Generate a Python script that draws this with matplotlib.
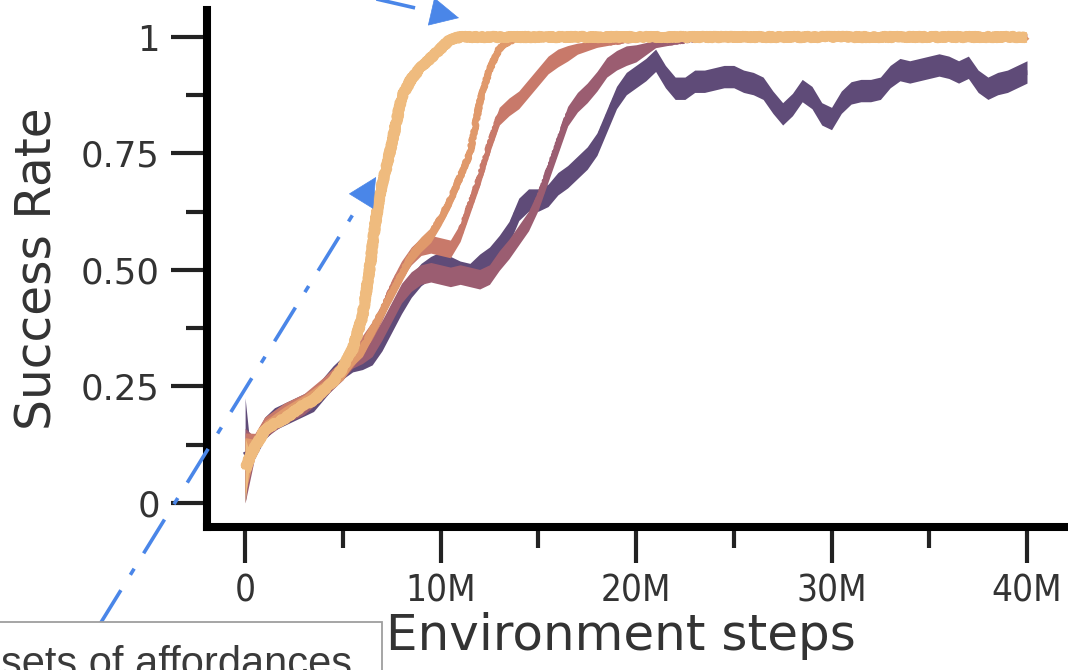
import matplotlib
matplotlib.use("Agg")
import matplotlib.pyplot as plt
import numpy as np
from matplotlib.ticker import FuncFormatter, MultipleLocator
from matplotlib.patches import Rectangle

# ---- learning curves (x in millions of environment steps) ----
purple_steps = [0, 0.25, 0.5, 1, 1.5, 2, 2.5, 3, 3.5, 4, 4.5, 5, 5.5, 6, 6.5, 7, 7.5, 8, 8.5, 9,
                9.5, 10, 10.5, 11, 11.5, 12, 12.5, 13, 13.5, 14, 14.5, 15, 15.5, 16, 16.5, 17,
                17.5, 18, 18.5, 19, 19.5, 20, 20.5, 21, 21.5, 22, 22.5, 23, 23.5, 24, 24.5, 25,
                25.5, 26, 26.5, 27, 27.5, 28, 28.5, 29, 29.5, 30, 30.5, 31, 31.5, 32, 32.5, 33,
                33.5, 34, 34.5, 35, 35.5, 36, 36.5, 37, 37.5, 38, 38.5, 39, 39.5, 40]
purple_rate = [0.11, 0.10, 0.12, 0.16, 0.18, 0.19, 0.20, 0.21, 0.22, 0.245, 0.27, 0.29, 0.305,
               0.31, 0.32, 0.35, 0.39, 0.43, 0.465, 0.49, 0.505, 0.515, 0.505, 0.495, 0.49, 0.51,
               0.525, 0.55, 0.58, 0.63, 0.65, 0.65, 0.66, 0.685, 0.70, 0.72, 0.74, 0.77, 0.82,
               0.87, 0.90, 0.915, 0.93, 0.95, 0.915, 0.89, 0.89, 0.905, 0.905, 0.91, 0.915, 0.915,
               0.905, 0.90, 0.89, 0.86, 0.835, 0.855, 0.885, 0.87, 0.835, 0.825, 0.86, 0.88, 0.885,
               0.885, 0.89, 0.915, 0.93, 0.925, 0.93, 0.935, 0.94, 0.935, 0.925, 0.935, 0.905,
               0.89, 0.90, 0.905, 0.915, 0.925]

mauve_steps = [0, 0.5, 1, 2, 3, 4, 5, 5.5, 6, 6.5, 7, 7.5, 8, 8.5, 9, 9.5, 10, 10.5, 11, 11.5,
               12, 12.5, 13, 13.5, 14, 14.5, 15, 15.5, 16, 16.5, 17, 17.5, 18, 18.5, 19, 19.5,
               20, 20.5, 21, 22, 23, 24, 40]
mauve_rate = [0.08, 0.12, 0.16, 0.19, 0.21, 0.245, 0.285, 0.31, 0.32, 0.335, 0.37, 0.41, 0.45,
              0.475, 0.49, 0.495, 0.49, 0.485, 0.49, 0.485, 0.48, 0.49, 0.52, 0.545, 0.575,
              0.605, 0.65, 0.71, 0.77, 0.83, 0.86, 0.88, 0.905, 0.935, 0.95, 0.96, 0.965, 0.975,
              0.985, 0.99, 0.995, 1.0, 1.0]

terra_steps = [0, 0.5, 1, 2, 3, 4, 5, 5.5, 6, 6.5, 7, 7.5, 8, 8.5, 9, 9.5, 10, 10.5, 11, 11.5,
               12, 12.5, 13, 13.5, 14, 14.5, 15, 15.5, 16, 16.5, 17, 18, 19, 20, 21, 40]
terra_rate = [0.08, 0.13, 0.165, 0.195, 0.215, 0.25, 0.29, 0.31, 0.34, 0.37, 0.41, 0.46, 0.50,
              0.53, 0.55, 0.555, 0.55, 0.545, 0.58, 0.64, 0.70, 0.77, 0.83, 0.85, 0.865, 0.89,
              0.915, 0.94, 0.955, 0.965, 0.975, 0.985, 0.99, 0.995, 1.0, 1.0]

orange_steps = [0, 0.5, 1, 2, 3, 4, 5, 5.5, 6, 6.5, 7, 7.5, 8, 8.5, 9, 9.5, 10, 10.5, 11, 11.5,
                12, 12.5, 13, 13.5, 14, 40]
orange_rate = [0.08, 0.12, 0.16, 0.19, 0.215, 0.245, 0.28, 0.31, 0.33, 0.37, 0.41, 0.45, 0.49,
               0.53, 0.555, 0.575, 0.61, 0.65, 0.70, 0.75, 0.86, 0.93, 0.975, 0.99, 1.0, 1.0]

light_steps = [0, 0.25, 0.5, 1, 1.5, 2, 2.5, 3, 3.5, 4, 4.5, 5, 5.5, 6, 6.3, 6.6, 6.9, 7.2, 7.5,
               8, 8.5, 9, 9.5, 10, 10.5, 11, 40]
light_rate = [0.07, 0.10, 0.12, 0.155, 0.17, 0.18, 0.195, 0.21, 0.22, 0.24, 0.26, 0.29, 0.33,
              0.40, 0.48, 0.58, 0.665, 0.715, 0.77, 0.87, 0.91, 0.935, 0.955, 0.975, 0.995, 1.0,
              1.0]

# spread of the runs at the very first evaluation (low, high)
start_spread = {
    "purple": (0.0, 0.225),
    "mauve": (0.0, 0.16),
    "terra": (0.02, 0.15),
    "orange": (0.02, 0.14),
    "light": (0.0, 0.14),
}

series = [
    ("purple", purple_steps, purple_rate, "#5f4b78", 0.024, 3.5),
    ("mauve", mauve_steps, mauve_rate, "#9b5d71", 0.021, 3.5),
    ("terra", terra_steps, terra_rate, "#c8796a", 0.019, 3.5),
    ("orange", orange_steps, orange_rate, "#e0996b", 0.016, 4.5),
    ("light", light_steps, light_rate, "#efbb7e", 0.006, 7.5),
]

x_ticks = [0, 10, 20, 30, 40]
x_ticklabels = ["0", "10M", "20M", "30M", "40M"]

W, H = 1068, 670
fig = plt.figure(figsize=(W / 100, H / 100), dpi=100)
ax = fig.add_axes([207 / W, 1 - 527 / H, 863 / W, 517 / H])

for i, (name, xs, ys, color, hw, lw) in enumerate(series):
    xs = np.asarray(xs, dtype=float)
    ys = np.asarray(ys, dtype=float)
    # the spread between runs closes up once every run solves the task
    spread = hw * np.clip((1.0 - ys) / 0.04, 0.15, 1.0)
    lo = ys - spread
    hi = np.minimum(ys + spread, 1.0)
    lo[0], hi[0] = start_spread[name]
    band = ax.fill_between(xs, lo, hi, color=color, lw=0, zorder=2 + i)
    band.set_sketch_params(scale=2.6, length=2.5, randomness=10)
    line, = ax.plot(xs, ys, color=color, lw=lw, zorder=2 + i, solid_capstyle="butt")
    line.set_sketch_params(scale=1.0, length=3, randomness=6)

ax.set_xlim(-1.95, 42.2)
ax.set_ylim(-0.052, 1.058)

for s in ("top", "right"):
    ax.spines[s].set_visible(False)
for s in ("left", "bottom"):
    ax.spines[s].set_linewidth(5.8)
    ax.spines[s].set_color("black")

ax.set_xticks(x_ticks)
ax.set_xticklabels(x_ticklabels)
ax.xaxis.set_minor_locator(MultipleLocator(5))
ax.yaxis.set_major_locator(MultipleLocator(0.25))
ax.yaxis.set_minor_locator(MultipleLocator(0.125))
ax.yaxis.set_major_formatter(FuncFormatter(
    lambda v, p: "0" if abs(v) < 1e-9 else ("1" if abs(v - 1) < 1e-9 else f"{v:.2f}")))

ax.tick_params(axis="both", which="major", length=26, width=3, color="#222222",
               labelcolor="#333333", pad=8)
ax.tick_params(axis="y", which="major", labelsize=25.5)
ax.tick_params(axis="x", which="major", labelsize=26.5, pad=7)
ax.tick_params(axis="both", which="minor", length=15, width=3, color="#222222")
for lab in ax.get_xticklabels():
    lab.set_fontstretch("condensed")

ax.set_ylabel("Success Rate", fontsize=35, color="#333333", labelpad=14)
ax.set_xlabel("Environment steps", fontsize=36, color="#333333")
ax.xaxis.set_label_coords((621 - 207) / 863, -0.165)
ax.xaxis.label.set_va("top")

# ---- slide annotations drawn on top in pixel coordinates ----
ov = fig.add_axes([0, 0, 1, 1], zorder=20)
ov.set_xlim(0, W)
ov.set_ylim(H, 0)
ov.axis("off")
ov.patch.set_alpha(0)

blue = "#4a86e8"


def dashed_arrow(p0, p1):
    p0 = np.array(p0, float)
    p1 = np.array(p1, float)
    d = (p1 - p0) / np.hypot(*(p1 - p0))
    base = p1 - d * 18
    ov.plot([p0[0], base[0]], [p0[1], base[1]], color=blue, lw=2.6,
            linestyle=(0, (11, 5, 2, 5)), solid_capstyle="butt", dash_capstyle="butt")
    ov.annotate("", xy=p1, xytext=base - d * 2,
                arrowprops=dict(arrowstyle="-|>,head_length=0.9,head_width=0.45",
                                mutation_scale=22, color=blue, lw=0.5,
                                shrinkA=0, shrinkB=0))


dashed_arrow((100, 624), (376, 177))
dashed_arrow((372, -2), (459, 18))

ov.add_patch(Rectangle((-5, 622), 387, 80, facecolor="white", edgecolor="#9e9e9e",
                       lw=1.3, zorder=5))
ov.text(1, 676, "sets of affordances", fontsize=30, family="Liberation Sans",
        color="#3a3a3a", ha="left", va="baseline", zorder=6)

fig.savefig("out.png", dpi=100)
